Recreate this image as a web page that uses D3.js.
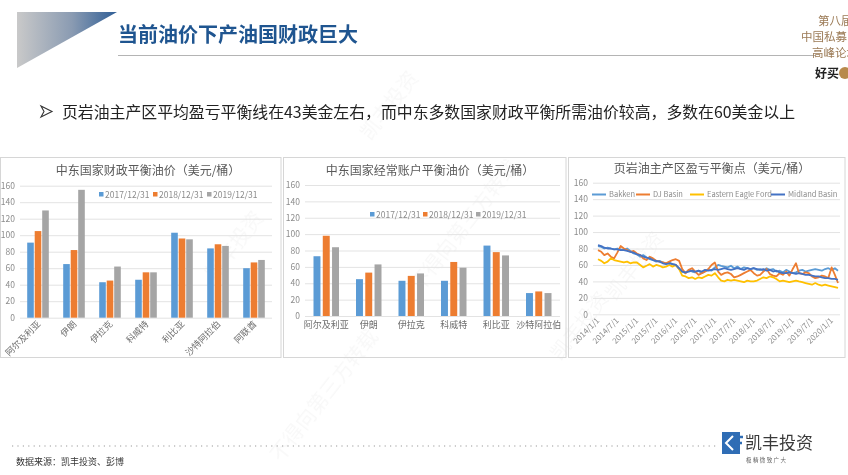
<!DOCTYPE html>
<html><head><meta charset="utf-8">
<script src="https://cdn.jsdelivr.net/npm/d3@7"></script>
<style>
body{margin:0;background:#fff}
svg{display:block}
text{font-family:"Noto Sans CJK SC","Noto Sans",sans-serif}
</style>
</head><body><svg id="c" width="848" height="475"></svg>
<script>
// ---------- data ----------
const pageTitle = "当前油价下产油国财政巨大";
const bulletText = "页岩油主产区平均盈亏平衡线在43美金左右，而中东多数国家财政平衡所需油价较高，多数在60美金以上";
const sourceText = "数据来源：凯丰投资、彭博";

const legendNames = ["2017/12/31", "2018/12/31", "2019/12/31"];
const yTickValues = [0, 20, 40, 60, 80, 100, 120, 140, 160];

const fiscalTitle = "中东国家财政平衡油价（美元/桶）";
const fiscalCats = ["阿尔及利亚", "伊朗", "伊拉克", "科威特", "利比亚", "沙特阿拉伯", "阿联酋"];
const fiscal2017 = [91, 65, 43, 46, 103, 84, 60];
const fiscal2018 = [105, 82, 45, 55, 96, 89, 67];
const fiscal2019 = [130, 155, 62, 55, 95, 87, 70];

const currentTitle = "中东国家经常账户平衡油价（美元/桶）";
const currentCats = ["阿尔及利亚", "伊朗", "伊拉克", "科威特", "利比亚", "沙特阿拉伯"];
const current2017 = [73, 45, 43, 43, 86, 28];
const current2018 = [98, 53, 49, 66, 78, 30];
const current2019 = [84, 63, 52, 59, 74, 28];

const shaleTitle = "页岩油主产区盈亏平衡点（美元/桶）";
const shaleNames = ["Bakken", "DJ Basin", "Eastern Eagle Ford", "Midland Basin"];
const shaleStart = "2014/1/1";
const shaleTickLabels = ["2014/1/1","2014/7/1","2015/1/1","2015/7/1","2016/1/1","2016/7/1","2017/1/1","2017/7/1","2018/1/1","2018/7/1","2019/1/1","2019/7/1","2020/1/1"];
// monthly values 2014/1 .. 2020/3
const bakken = [
  83,82,80,81,80,79,80,79,78,80,77,74,
  73,70,72,69,67,66,64,65,63,62,63,61,
  60,55,52,50,54,52,51,53,50,52,54,53,
  57,60,59,58,57,59,56,58,55,57,56,55,
  56,54,55,53,56,54,55,52,53,51,54,52,
  50,51,53,54,52,53,54,55,54,53,55,56,
  54,56,53];
const djBasin = [
  78,76,72,74,70,68,75,83,80,78,76,77,
  74,72,68,66,70,68,65,64,63,62,64,66,
  67,65,55,50,54,56,52,48,50,52,55,60,
  63,52,48,50,51,49,45,46,48,50,52,54,
  50,47,48,52,55,49,47,46,50,48,52,47,
  55,62,50,49,51,50,46,44,45,47,46,44,
  57,48,38];
const eagleFord = [
  67,65,62,64,68,66,65,64,63,64,62,63,
  63,60,57,59,61,58,60,59,57,58,60,58,
  60,55,47,46,44,45,43,45,44,46,48,47,
  50,45,41,40,42,41,42,41,40,39,41,40,
  40,41,43,45,44,46,45,43,40,41,40,39,
  40,41,40,39,38,37,36,38,36,35,36,35,
  34,33,32];
const midland = [
  84,83,81,80,80,79,79,78,78,77,76,75,
  73,72,70,69,68,66,65,64,62,61,62,61,
  60,56,52,51,52,53,52,53,52,54,53,54,
  55,54,55,56,55,54,55,56,55,54,56,55,
  56,55,54,55,53,54,52,53,51,50,50,51,
  50,49,50,49,48,48,47,46,46,45,44,44,
  43,43,42];

// ---------- styles ----------
const barColors = ["#5B9BD5", "#ED7D31", "#A5A5A5"];
const lineColors = ["#5B9BD5", "#ED7D31", "#FFC000", "#4472C4"];
const gridColor = "#e3e3e3";
const tickColor = "#8c8c8c";
const titleColor = "#595959";

const svg = d3.select("#c");
svg.append("rect").attr("width", 848).attr("height", 475).attr("fill", "#fff");

const defs = svg.append("defs");
const grad = defs.append("linearGradient").attr("id", "tri").attr("x1", 0).attr("y1", 0).attr("x2", 1).attr("y2", 0);
grad.append("stop").attr("offset", 0).attr("stop-color", "#c9c9c9");
grad.append("stop").attr("offset", 0.55).attr("stop-color", "#8a9bb2");
grad.append("stop").attr("offset", 1).attr("stop-color", "#2f5e96");

// faint watermarks
const wm = svg.append("g").attr("fill", "#000").attr("opacity", 0.03).attr("font-size", 20);
[["凯丰投资", 395, 110], ["不得向第三方转载", 330, 400], ["凯丰投资", 240, 250], ["不得向第三方转载", 470, 230], ["凯丰投资", 640, 270], ["凯丰投资", 585, 330]]
  .forEach(([t, x, y]) => wm.append("text").attr("transform", `translate(${x},${y}) rotate(-52)`).attr("text-anchor", "middle").text(t));

// ---------- header ----------
svg.append("path").attr("d", "M17,12 L117,12 L17,68 Z").attr("fill", "url(#tri)");
svg.append("text").attr("x", 118).attr("y", 42).attr("font-size", 20).attr("font-weight", 700)
  .attr("fill", "#1f5590").text(pageTitle);
svg.append("line").attr("x1", 118).attr("x2", 815).attr("y1", 55.5).attr("y2", 55.5)
  .attr("stroke", "#b4b4b4").attr("stroke-width", 1.2);

const brand = svg.append("g").attr("fill", "#9b7a55").attr("font-size", 11.5);
brand.append("text").attr("x", 818).attr("y", 25).text("第八届");
brand.append("text").attr("x", 801).attr("y", 41).text("中国私募");
brand.append("text").attr("x", 812).attr("y", 57).text("高峰论坛");
svg.append("text").attr("x", 815).attr("y", 78).attr("font-size", 12).attr("font-weight", 700)
  .attr("fill", "#222").text("好买");
svg.append("circle").attr("cx", 845).attr("cy", 73).attr("r", 6).attr("fill", "#b88a4c");

svg.append("path").attr("d", "M41,106 L52,111.5 L41,117 L44,111.5 Z").attr("fill", "none")
  .attr("stroke", "#333").attr("stroke-width", 1.1);
svg.append("text").attr("x", 62).attr("y", 118).attr("font-size", 15.5).attr("fill", "#222")
  .attr("textLength", 733).attr("lengthAdjust", "spacingAndGlyphs").text(bulletText);

// ---------- panels ----------
[[0.5, 281], [283.5, 566], [568.5, 845]].forEach(([a, b]) => {
  svg.append("rect").attr("x", a).attr("y", 157.5).attr("width", b - a).attr("height", 200)
    .attr("fill", "none").attr("stroke", "#d6d6d6");
});

function yAxis(g, y, x0, x1) {
  const ax = g.append("g").attr("transform", `translate(${x0},0)`)
    .call(d3.axisLeft(y).tickValues(yTickValues).tickSize(-(x1 - x0)).tickPadding(5));
  ax.select(".domain").remove();
  ax.selectAll("line").attr("stroke", gridColor);
  ax.selectAll("text").attr("fill", tickColor).attr("font-size", 8.5)
    .attr("font-family", "'Noto Sans','DejaVu Sans',sans-serif");
}

function barChart(o) {
  const g = svg.append("g");
  g.append("text").attr("x", o.titleX).attr("y", o.titleY).attr("text-anchor", "middle")
    .attr("font-size", 12).attr("fill", titleColor).text(o.title);
  const y = d3.scaleLinear().domain([0, 160]).range([o.yBottom, o.yTop]);
  yAxis(g, y, o.x0, o.x1);
  const x = d3.scaleBand().domain(o.cats).range([o.x0, o.x1]).paddingInner(0.4).paddingOuter(0.2);
  const xs = d3.scaleBand().domain([0, 1, 2]).range([0, x.bandwidth()]).paddingInner(o.subPad);
  o.series.forEach((vals, si) => {
    g.append("g").selectAll("rect").data(vals).join("rect")
      .attr("x", (d, i) => x(o.cats[i]) + xs(si))
      .attr("y", d => y(d)).attr("width", xs.bandwidth())
      .attr("height", d => y(0) - y(d)).attr("fill", barColors[si]);
  });
  o.cats.forEach(c => {
    const cx = x(c) + x.bandwidth() / 2;
    const t = g.append("text").attr("font-size", 9).attr("fill", "#6e6e6e").text(c);
    if (o.rotate) {
      t.attr("text-anchor", "end").attr("transform", `translate(${cx + 3},${o.yBottom + 7}) rotate(-45)`);
    } else {
      t.attr("text-anchor", "middle").attr("x", cx).attr("y", o.yBottom + 12);
    }
  });
  legendNames.forEach((n, i) => {
    const lx = o.legendXs[i];
    g.append("rect").attr("x", lx).attr("y", o.legendY - 3).attr("width", 4.5).attr("height", 4.5).attr("fill", barColors[i]);
    g.append("text").attr("x", lx + 6).attr("y", o.legendY + 2.5).attr("font-size", 8.5).attr("fill", tickColor)
      .attr("font-family", "'Noto Sans','DejaVu Sans',sans-serif").text(n);
  });
}

barChart({
  title: fiscalTitle, titleX: 148, titleY: 175, cats: fiscalCats,
  series: [fiscal2017, fiscal2018, fiscal2019],
  x0: 20, x1: 272, yBottom: 317.7, yTop: 185.7, subPad: 0.12, rotate: true,
  legendY: 195, legendXs: [99, 153, 207]
});
barChart({
  title: currentTitle, titleX: 430, titleY: 175, cats: currentCats,
  series: [current2017, current2018, current2019],
  x0: 305, x1: 560, yBottom: 316, yTop: 185, subPad: 0.25, rotate: false,
  legendY: 215, legendXs: [370, 423, 476]
});

// ---------- line chart ----------
(function () {
  const g = svg.append("g");
  g.append("text").attr("x", 712).attr("y", 173).attr("text-anchor", "middle")
    .attr("font-size", 12).attr("fill", titleColor).text(shaleTitle);
  const y = d3.scaleLinear().domain([0, 160]).range([314.3, 182.7]);
  yAxis(g, y, 593, 840);
  const parse = d3.timeParse("%Y/%-m/%-d");
  const start = parse(shaleStart);
  const dates = bakken.map((d, i) => d3.timeMonth.offset(start, i));
  const x = d3.scaleTime().domain([dates[0], dates[dates.length - 1]]).range([598, 838]);
  const line = d3.line().x((d, i) => x(dates[i])).y(d => y(d));
  [bakken, djBasin, eagleFord, midland].forEach((s, i) => {
    g.append("path").datum(s).attr("d", line).attr("fill", "none")
      .attr("stroke", lineColors[i]).attr("stroke-width", 1.8).attr("stroke-linejoin", "round");
  });
  shaleTickLabels.forEach(l => {
    g.append("text").attr("text-anchor", "end").attr("font-size", 8).attr("fill", tickColor)
      .attr("font-family", "'Noto Sans','DejaVu Sans',sans-serif")
      .attr("transform", `translate(${x(parse(l)) + 2},${321}) rotate(-45)`).text(l);
  });
  const lx = [592, 636, 690, 771];
  shaleNames.forEach((n, i) => {
    g.append("line").attr("x1", lx[i]).attr("x2", lx[i] + 14).attr("y1", 194.5).attr("y2", 194.5)
      .attr("stroke", lineColors[i]).attr("stroke-width", 2);
    g.append("text").attr("x", lx[i] + 17).attr("y", 197.3).attr("font-size", 7.5).attr("fill", tickColor)
      .attr("font-family", "'Noto Sans','DejaVu Sans',sans-serif").text(n);
  });
})();

// ---------- footer ----------
svg.append("line").attr("x1", 12).attr("x2", 718).attr("y1", 446).attr("y2", 446)
  .attr("stroke", "#9a9a9a").attr("stroke-width", 1.2).attr("stroke-dasharray", "1.2,4.2");
svg.append("text").attr("x", 16).attr("y", 465).attr("font-size", 9).attr("fill", "#333").text(sourceText);

const logo = svg.append("g");
logo.append("path").attr("d", "M722,432 L740,432 L740,454 L722,454 Z").attr("fill", "#2f6db5");
logo.append("path").attr("d", "M733,436 L726,443 L733,450").attr("fill", "none").attr("stroke", "#fff").attr("stroke-width", 2);
logo.append("path").attr("d", "M736,434 L736,452 M736,437 L743,437 M736,443 L742,443").attr("fill", "none").attr("stroke", "#2f6db5").attr("stroke-width", 2.5);
logo.append("text").attr("x", 745).attr("y", 449).attr("font-size", 17).attr("fill", "#3a3a3a").text("凯丰投资");
logo.append("text").attr("x", 746).attr("y", 462).attr("font-size", 5.5).attr("fill", "#666")
  .attr("textLength", 40).text("极 精 微 致 广 大");
</script>
</body></html>
